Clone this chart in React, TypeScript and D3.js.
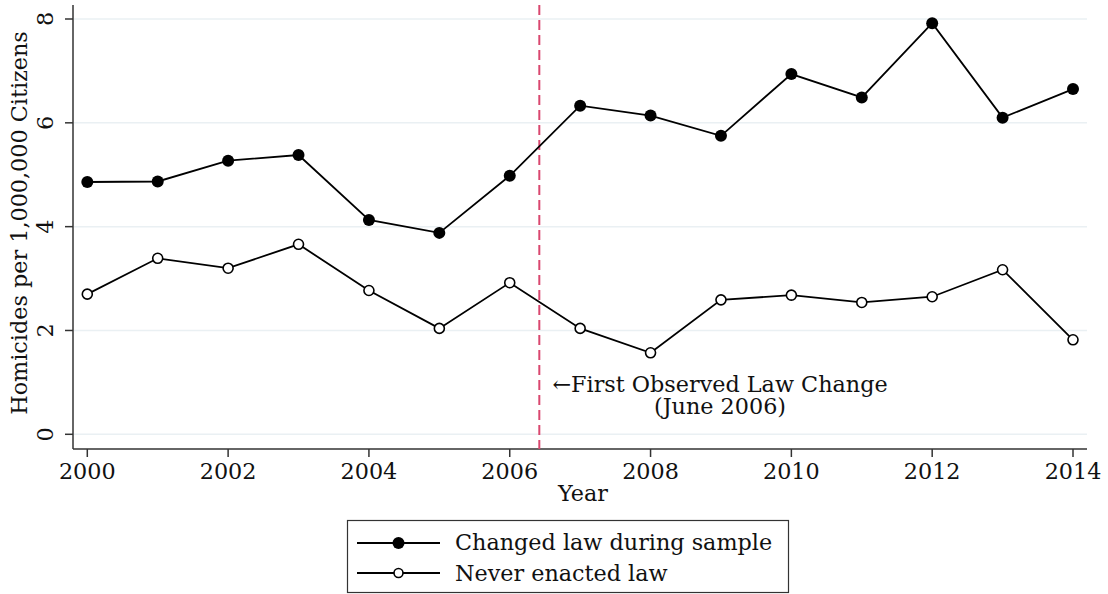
import React from "react";
import * as d3 from "d3";

const years = [2000, 2001, 2002, 2003, 2004, 2005, 2006, 2007, 2008, 2009, 2010, 2011, 2012, 2013, 2014];
const changedLaw = [4.86, 4.87, 5.27, 5.38, 4.13, 3.88, 4.98, 6.33, 6.14, 5.75, 6.94, 6.49, 7.92, 6.10, 6.65];
const neverEnacted = [2.70, 3.39, 3.20, 3.66, 2.77, 2.04, 2.92, 2.04, 1.57, 2.59, 2.68, 2.54, 2.65, 3.17, 1.82];
const xTicks = [2000, 2002, 2004, 2006, 2008, 2010, 2012, 2014];
const yTicks = [0, 2, 4, 6, 8];
const lawChangeYear = 2006.42;
const seriesNames = ["Changed law during sample", "Never enacted law"];

const FONT = "'DejaVu Serif', serif";

export default function App() {
  const W = 1108, H = 594;
  const axL = 73, axR = 1087, axT = 5, axB = 449;
  const x = d3.scaleLinear().domain([2000, 2014]).range([87.3, 1073]);
  const y = d3.scaleLinear().domain([0, 8]).range([434.3, 19]);
  const line = d3.line<number>().x((_, i) => x(years[i])).y((d) => y(d));
  const fs = 22.3;
  return (
    <svg width={W} height={H} style={{ position: "absolute", left: 0, top: 0, background: "#fff" }}>
      <rect x={0} y={0} width={W} height={H} fill="#fff" />
      {yTicks.map((t) => (
        <line key={"g" + t} x1={axL + 1} x2={axR} y1={y(t)} y2={y(t)} stroke="#eaf0f3" strokeWidth={1.5} />
      ))}
      <line x1={axL} x2={axL} y1={axT} y2={axB} stroke="#333" strokeWidth={1.5} />
      <line x1={axL} x2={axR} y1={axB} y2={axB} stroke="#333" strokeWidth={1.5} />
      {yTicks.map((t) => (
        <g key={"yt" + t}>
          <line x1={axL - 8} x2={axL} y1={y(t)} y2={y(t)} stroke="#333" strokeWidth={1.5} />
          <text
            transform={`translate(${53},${y(t)}) rotate(-90)`}
            textAnchor="middle"
            fontFamily={FONT}
            fontSize={fs}
            fill="#111"
          >
            {t}
          </text>
        </g>
      ))}
      {xTicks.map((t) => (
        <g key={"xt" + t}>
          <line x1={x(t)} x2={x(t)} y1={axB} y2={axB + 8} stroke="#333" strokeWidth={1.5} />
          <text x={x(t)} y={478.5} textAnchor="middle" fontFamily={FONT} fontSize={fs} fill="#111">
            {t}
          </text>
        </g>
      ))}
      <text x={583} y={501} textAnchor="middle" fontFamily={FONT} fontSize={fs} fill="#111">
        Year
      </text>
      <text
        transform={`translate(${27},${223}) rotate(-90)`}
        textAnchor="middle"
        fontFamily={FONT}
        fontSize={fs}
        fill="#111"
      >
        Homicides per 1,000,000 Citizens
      </text>
      <line
        x1={x(lawChangeYear)}
        x2={x(lawChangeYear)}
        y1={axT}
        y2={axB}
        stroke="#d9476f"
        strokeWidth={2}
        strokeDasharray="10,5"
      />
      <text x={720} y={391.5} textAnchor="middle" fontFamily={FONT} fontSize={fs} fill="#111">
        ←First Observed Law Change
      </text>
      <text x={720} y={413.5} textAnchor="middle" fontFamily={FONT} fontSize={fs} fill="#111">
        (June 2006)
      </text>
      <path d={line(changedLaw) || ""} fill="none" stroke="#000" strokeWidth={1.8} />
      <path d={line(neverEnacted) || ""} fill="none" stroke="#000" strokeWidth={1.8} />
      {changedLaw.map((v, i) => (
        <circle key={"c" + i} cx={x(years[i])} cy={y(v)} r={6} fill="#000" />
      ))}
      {neverEnacted.map((v, i) => (
        <circle key={"n" + i} cx={x(years[i])} cy={y(v)} r={5} fill="#fff" stroke="#000" strokeWidth={1.6} />
      ))}
      <rect x={347.5} y={520.5} width={441} height={72} fill="#fff" stroke="#333" strokeWidth={1.2} />
      <line x1={357} x2={440} y1={543} y2={543} stroke="#000" strokeWidth={1.8} />
      <circle cx={398.5} cy={543} r={6} fill="#000" />
      <text x={455} y={550} fontFamily={FONT} fontSize={fs} fill="#111">
        {seriesNames[0]}
      </text>
      <line x1={357} x2={440} y1={573} y2={573} stroke="#000" strokeWidth={1.8} />
      <circle cx={398.5} cy={573} r={4.5} fill="#fff" stroke="#000" strokeWidth={1.6} />
      <text x={455} y={580.5} fontFamily={FONT} fontSize={fs} fill="#111">
        {seriesNames[1]}
      </text>
    </svg>
  );
}
